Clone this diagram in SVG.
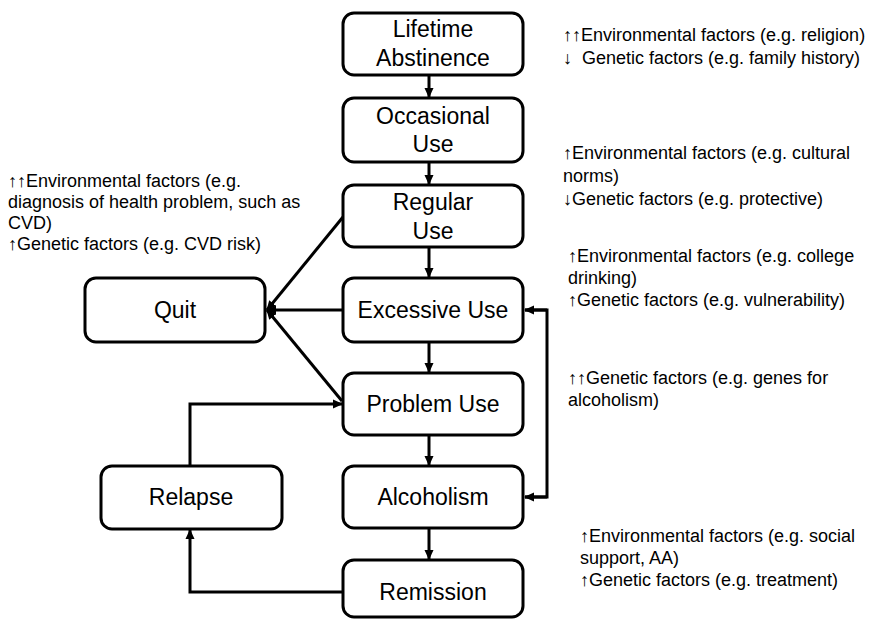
<svg xmlns="http://www.w3.org/2000/svg" width="869" height="619" viewBox="0 0 869 619">
<style>
.box{fill:#fff;stroke:#000;stroke-width:3}
.lbl{font-family:"Liberation Sans",Arial,sans-serif;font-size:23px;fill:#000;text-anchor:middle}
.note{font-family:"Liberation Sans",Arial,sans-serif;font-size:18px;fill:#000}
.c{fill:none;stroke:#000;stroke-width:3}
</style>
<defs>
<marker id="ah" markerUnits="userSpaceOnUse" markerWidth="10" markerHeight="10" refX="9" refY="5" orient="auto">
<path d="M0,0.5 L10,5 L0,9.5 z" fill="#000"/>
</marker>
</defs>
<rect width="869" height="619" fill="#fff"/>
<g id="connectors">
<line class="c" x1="429" y1="75" x2="429" y2="97" marker-end="url(#ah)"/>
<line class="c" x1="429" y1="162" x2="429" y2="184" marker-end="url(#ah)"/>
<line class="c" x1="429" y1="247" x2="429" y2="277" marker-end="url(#ah)"/>
<line class="c" x1="429" y1="342" x2="429" y2="372" marker-end="url(#ah)"/>
<line class="c" x1="429" y1="435" x2="429" y2="465" marker-end="url(#ah)"/>
<line class="c" x1="429" y1="528" x2="429" y2="559" marker-end="url(#ah)"/>
<line class="c" x1="343" y1="217" x2="267" y2="310" marker-end="url(#ah)"/>
<line class="c" x1="343" y1="310" x2="267" y2="310" marker-end="url(#ah)"/>
<line class="c" x1="342" y1="401" x2="267" y2="310" marker-end="url(#ah)"/>
<polyline class="c" points="190,466 190,404 342,404" marker-end="url(#ah)"/>
<polyline class="c" points="343,592 190,592 190,530" marker-end="url(#ah)"/>
<polyline class="c" points="525,310 547,310 547,497 525,497"/>
<line class="c" x1="547" y1="310" x2="525" y2="310" marker-end="url(#ah)"/>
<line class="c" x1="547" y1="497" x2="525" y2="497" marker-end="url(#ah)"/>
</g>
<g id="lifetime"><rect class="box" x="343" y="13" width="180" height="62" rx="11"/><text class="lbl" x="433" y="37">Lifetime</text><text class="lbl" x="433" y="66">Abstinence</text></g>
<g id="occasional"><rect class="box" x="343" y="98" width="180" height="64" rx="11"/><text class="lbl" x="433" y="124">Occasional</text><text class="lbl" x="433" y="152">Use</text></g>
<g id="regular"><rect class="box" x="343" y="185" width="180" height="62" rx="11"/><text class="lbl" x="433" y="210">Regular</text><text class="lbl" x="433" y="239">Use</text></g>
<g id="excessive"><rect class="box" x="343" y="278" width="180" height="64" rx="11"/><text class="lbl" x="433" y="318">Excessive Use</text></g>
<g id="problem"><rect class="box" x="343" y="373" width="180" height="62" rx="11"/><text class="lbl" x="433" y="412">Problem Use</text></g>
<g id="alcoholism"><rect class="box" x="343" y="466" width="180" height="62" rx="11"/><text class="lbl" x="433" y="505">Alcoholism</text></g>
<g id="remission"><rect class="box" x="343" y="560" width="180" height="57" rx="11"/><text class="lbl" x="433" y="600">Remission</text></g>
<g id="quit"><rect class="box" x="85" y="278" width="180" height="64" rx="11"/><text class="lbl" x="175" y="318">Quit</text></g>
<g id="relapse"><rect class="box" x="101" y="466" width="181" height="63" rx="11"/><text class="lbl" x="191" y="505">Relapse</text></g>
<g id="notes">
<text class="note" x="563" y="41">↑↑Environmental factors (e.g. religion)</text>
<text class="note" x="563" y="64">↓<tspan x="582">Genetic factors (e.g. family history)</tspan></text>
<text class="note" x="563" y="159">↑Environmental factors (e.g. cultural</text>
<text class="note" x="563" y="182">norms)</text>
<text class="note" x="563" y="205">↓Genetic factors (e.g. protective)</text>
<text class="note" x="568" y="262">↑Environmental factors (e.g. college</text>
<text class="note" x="568" y="284">drinking)</text>
<text class="note" x="568" y="306">↑Genetic factors (e.g. vulnerability)</text>
<text class="note" x="568" y="384">↑↑Genetic factors (e.g. genes for</text>
<text class="note" x="568" y="406">alcoholism)</text>
<text class="note" x="580" y="542">↑Environmental factors (e.g. social</text>
<text class="note" x="580" y="564">support, AA)</text>
<text class="note" x="580" y="586">↑Genetic factors (e.g. treatment)</text>
<text class="note" x="8" y="187">↑↑Environmental factors (e.g.</text>
<text class="note" x="8" y="208">diagnosis of health problem, such as</text>
<text class="note" x="8" y="229">CVD)</text>
<text class="note" x="8" y="250">↑Genetic factors (e.g. CVD risk)</text>
</g>
</svg>
